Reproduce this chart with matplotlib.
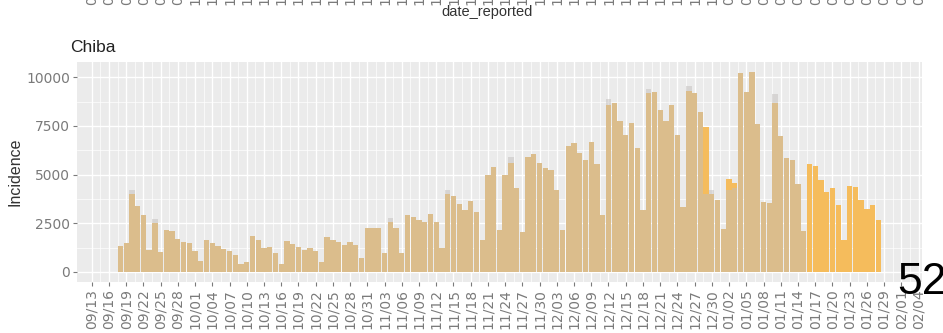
import matplotlib
matplotlib.use("Agg")
import matplotlib.pyplot as plt
import numpy as np
import pandas as pd
import matplotlib.dates as mdates

plt.rcParams['font.family'] = ['Liberation Sans', 'DejaVu Sans']

start_date = "2021-09-18"
# orange layer (all reported)
cases_orange = [
    1350, 1500, 4000, 3380, 2950, 1150, 2500, 1050, 2150, 2080,
    1700, 1560, 1470, 1100, 540, 1650, 1500, 1330, 1160, 1080,
    880, 390, 530, 1850, 1650, 1220, 1260, 960, 420, 1600,
    1430, 1300, 1120, 1210, 1060, 530, 1820, 1640, 1560, 1400,
    1560, 1380, 700, 2250, 2250, 2250, 960, 2550, 2240, 990,
    2920, 2840, 2670, 2580, 2970, 2580, 1210, 4000, 3900, 3490,
    3180, 3660, 3090, 1640, 4970, 5370, 2150, 4970, 5600, 4290,
    2070, 5910, 6050, 5610, 5320, 5230, 4200, 2150, 6460, 6630,
    6090, 5740, 6680, 5570, 2920, 8600, 8680, 7760, 7030, 7660,
    6390, 3180, 9200, 9250, 8340, 7740, 8600, 7030, 3350, 9300,
    9200, 8220, 7450, 4000, 3700, 2200, 4800, 4550, 10200, 9250,
    10270, 7620, 3610, 3520, 8700, 6970, 5830, 5740, 4510, 2120,
    5570, 5440, 4720, 4120, 4290, 3440, 1640, 4410, 4340, 3690,
    3210, 3440, 2670,
]
# translucent grey layer (confirmed)
cases_grey = [
    1350, 1500, 4200, 3380, 2950, 1150, 2700, 1050, 2150, 2080,
    1700, 1560, 1470, 1100, 540, 1650, 1500, 1330, 1160, 1080,
    880, 390, 530, 1850, 1650, 1220, 1260, 960, 420, 1600,
    1430, 1300, 1120, 1210, 1060, 530, 1820, 1640, 1560, 1400,
    1560, 1380, 700, 2250, 2250, 2250, 960, 2750, 2240, 990,
    2920, 2840, 2670, 2580, 2970, 2580, 1210, 4200, 3900, 3490,
    3180, 3660, 3090, 1640, 4970, 5370, 2150, 4970, 5880, 4290,
    2070, 5910, 6050, 5610, 5320, 5230, 4200, 2150, 6460, 6630,
    6090, 5740, 6680, 5570, 2920, 8900, 8680, 7760, 7030, 7660,
    6390, 3180, 9420, 9250, 8340, 7740, 8600, 7030, 3350, 9540,
    9200, 8220, 4000, 4200, 3700, 2200, 4200, 4300, 10200, 9250,
    10270, 7620, 3610, 3520, 9160, 6970, 5830, 5740, 4510, 2120,
    0, 0, 0, 0, 0, 0, 0, 0, 0, 0,
    0, 0, 0,
]
tick_labels = ["09/13", "09/16", "09/19", "09/22", "09/25", "09/28", "10/01",
               "10/04", "10/07", "10/10", "10/13", "10/16", "10/19", "10/22",
               "10/25", "10/28", "10/31", "11/03", "11/06", "11/09", "11/12",
               "11/15", "11/18", "11/21", "11/24", "11/27", "11/30", "12/03",
               "12/06", "12/09", "12/12", "12/15", "12/18", "12/21", "12/24",
               "12/27", "12/30", "01/02", "01/05", "01/08", "01/11", "01/14",
               "01/17", "01/20", "01/23", "01/26", "01/29", "02/01", "02/04"]
yticks = [0, 2500, 5000, 7500, 10000]

W, H = 943, 333
fig = plt.figure(figsize=(W / 100, H / 100), dpi=100)
L, R, T, B = 77, 922, 62, 282
ax = fig.add_axes([L / W, 1 - B / H, (R - L) / W, (B - T) / H])

dates = pd.date_range(start_date, periods=len(cases_orange), freq="D")
tick_dates = pd.date_range("2021-09-13", periods=len(tick_labels), freq="3D")

ax.set_facecolor("#EBEBEB")
ax.bar(dates, cases_orange, width=0.92, color="#F5BC5C", zorder=2)
ax.bar(dates, cases_grey, width=0.92, color="#C2BEBC", alpha=0.5, zorder=3)

x0 = mdates.date2num(pd.Timestamp("2021-09-13"))
XL0, XL1 = x0 - 2.56, x0 + 144.6
ax.set_xlim(XL0, XL1)
ax.set_ylim(-515, 10785)

tickfont = dict(family="DejaVu Sans", size=10, color="#7A7A7A")
ax.set_xticks(tick_dates)
ax.set_xticklabels(tick_labels, rotation=90, **tickfont)
ax.set_xticks([d + pd.Timedelta(hours=36) for d in tick_dates[:-1]], minor=True)
ax.set_yticks(yticks)
ax.set_yticklabels([str(v) for v in yticks], **tickfont)
ax.set_yticks([1250, 3750, 6250, 8750], minor=True)

ax.grid(which="major", color="white", linewidth=1.0, zorder=0)
ax.grid(which="minor", color="white", linewidth=0.5, zorder=0)
ax.set_axisbelow(True)
for s in ax.spines.values():
    s.set_visible(False)
ax.tick_params(which="major", length=3, width=0.8, color="#7A7A7A", pad=2)
ax.tick_params(which="minor", length=0)
ax.set_ylabel("Incidence", fontsize=11.5, color="#333333", labelpad=3)

fig.text(70 / W, 1 - 48 / H, "Chiba", fontsize=12.5, color="#222222",
         ha="left", va="center")
fig.text(487 / W, 1 - 12 / H, "date_reported", fontsize=10.5,
         color="#333333", ha="center", va="center")
# clipped labels of the panel above
for d, lab in zip(tick_dates, tick_labels):
    xf = (L + (mdates.date2num(d) - XL0) / (XL1 - XL0) * (R - L)) / W
    fig.text(xf, 1 - 5 / H, lab, rotation=90, color="#7A7A7A",
             family="DejaVu Sans", size=10, ha="center", va="bottom")

fig.text(897 / W, 1 - 283 / H, "52", fontsize=32, color="black",
         ha="left", va="center")

fig.savefig("out.png", dpi=100)
